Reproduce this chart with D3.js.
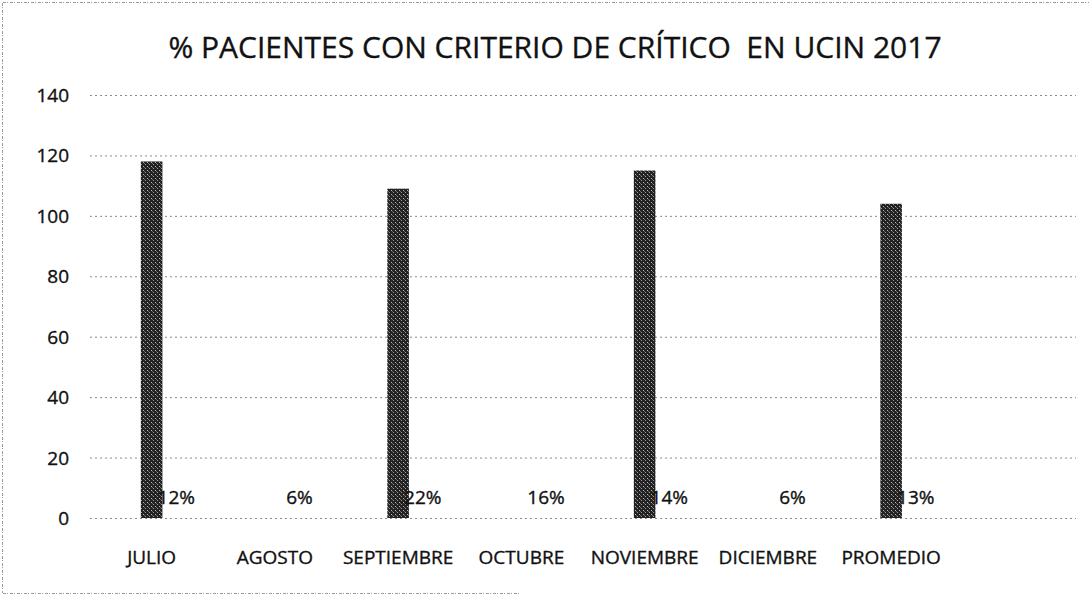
<!DOCTYPE html>
<html>
<head>
<meta charset="utf-8">
<script src="https://cdn.jsdelivr.net/npm/d3@7"></script>
<style>
  html, body { margin: 0; padding: 0; background: #fff; }
  svg { display: block; }
  text { font-family: "Open Sans", "DejaVu Sans", sans-serif; fill: #111; stroke: #111; stroke-width: 0.35px; }
</style>
</head>
<body>
<svg id="chart" width="1089" height="599"></svg>
<script>
const categories = ["JULIO", "AGOSTO", "SEPTIEMBRE", "OCTUBRE", "NOVIEMBRE", "DICIEMBRE", "PROMEDIO"];
const pacientes = [118, null, 109, null, 115, null, 104];
const porcentajes = [12, 6, 22, 16, 14, 6, 13];
const yTicks = [0, 20, 40, 60, 80, 100, 120, 140];
const titleText = "% PACIENTES CON CRITERIO DE CRÍTICO  EN UCIN 2017";

const svg = d3.select("#chart");
const W = 1089, H = 599;
const plotLeft = 90, plotRight = 1076;
const slot = (plotRight - plotLeft) / 8;

const x = d3.scaleBand().domain(categories).range([plotLeft, plotLeft + slot * categories.length]).padding(0);
const y = d3.scaleLinear().domain([0, 140]).range([518, 95]);

// dither pattern for the bars
const defs = svg.append("defs");
const pat = defs.append("pattern").attr("id", "dither").attr("patternUnits", "userSpaceOnUse")
  .attr("width", 4).attr("height", 4);
pat.append("rect").attr("width", 4).attr("height", 4).attr("fill", "#222");
pat.append("rect").attr("x", 1).attr("y", 0).attr("width", 1).attr("height", 1).attr("fill", "#9a9a9a");
pat.append("rect").attr("x", 3).attr("y", 2).attr("width", 1).attr("height", 1).attr("fill", "#b5b5b5");
pat.append("rect").attr("x", 0).attr("y", 3).attr("width", 1).attr("height", 1).attr("fill", "#666");

// chart border (scan style)
const border = svg.append("g").attr("stroke", "#9a9a9a").attr("stroke-width", 1).attr("stroke-dasharray", "3,1,1,2").attr("fill", "none");
border.append("line").attr("x1", 3).attr("x2", W).attr("y1", 2.5).attr("y2", 2.5);
border.append("line").attr("x1", 2.5).attr("x2", 2.5).attr("y1", 3).attr("y2", 593);
border.append("line").attr("x1", 3).attr("x2", 520).attr("y1", 593.5).attr("y2", 593.5);

// title
svg.append("text")
  .attr("x", 555).attr("y", 58)
  .attr("text-anchor", "middle")
  .style("font-size", "30px")
  .style("white-space", "pre")
  .attr("xml:space", "preserve")
  .text(titleText);

// gridlines
const yAxis = d3.axisLeft(y).tickValues(yTicks).tickSize(-(plotRight - plotLeft)).tickPadding(21).tickFormat(d3.format("d"));
const gy = svg.append("g").attr("transform", `translate(${plotLeft},0)`).call(yAxis);
gy.select(".domain").remove();
gy.selectAll(".tick line")
  .attr("stroke", "#8a8a8a").attr("stroke-width", 1).attr("stroke-dasharray", "2,3");
gy.selectAll(".tick text")
  .style("font-size", "19px").attr("fill", "#111").attr("dy", "0.34em");

// bars
const barW = slot * 0.175;
svg.append("g").selectAll("rect")
  .data(categories.map((c, i) => ({ c, v: pacientes[i] })).filter(d => d.v != null))
  .join("rect")
  .attr("x", d => x(d.c) + x.bandwidth() / 2 - barW / 2)
  .attr("y", d => y(d.v))
  .attr("width", barW)
  .attr("height", d => y(0) - y(d.v))
  .attr("fill", "url(#dither)");

// percentage labels
svg.append("g").selectAll("text")
  .data(categories.map((c, i) => ({ c, v: porcentajes[i] })))
  .join("text")
  .attr("x", d => x(d.c) + x.bandwidth() / 2 + slot * 0.2)
  .attr("y", y(0) - 14)
  .attr("text-anchor", "middle")
  .style("font-size", "19px")
  .text(d => d.v + "%");

// x axis labels
const xAxis = d3.axisBottom(x).tickSize(0).tickPadding(0);
const gx = svg.append("g").attr("transform", `translate(0,${y(0)})`).call(xAxis);
gx.select(".domain").remove();
gx.selectAll(".tick text")
  .style("font-size", "19px").attr("fill", "#111")
  .attr("y", 46).attr("dy", 0);
</script>
</body>
</html>
